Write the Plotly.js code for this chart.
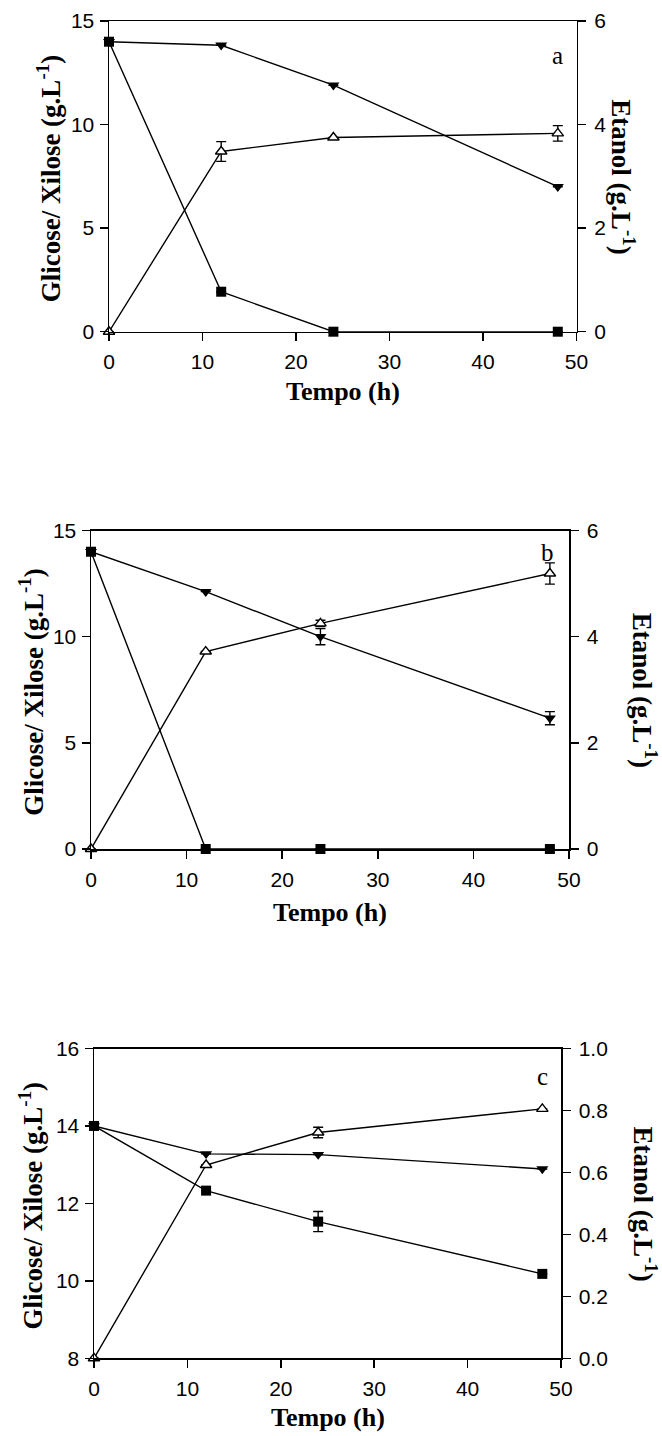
<!DOCTYPE html>
<html>
<head>
<meta charset="utf-8">
<script src="https://cdn.plot.ly/plotly-3.0.1.min.js"></script>
<style>
  html, body { margin: 0; padding: 0; background: #fff; }
  #chart { width: 662px; height: 1436px; }
</style>
</head>
<body>
<div id="chart"></div>
<script>
// Fermentation time course: glucose, xylose (left axis) and ethanol (right axis)
const tempo = [0, 12, 24, 48];

// Panel a
const glicoseA = [14, 1.93, 0, 0];
const xiloseA = [14, 13.83, 11.9, 7.0];
const etanolA = [0, 3.48, 3.75, 3.83];
const errGlicoseA = [0, 0, 0, 0];
const errXiloseA = [0, 0, 0, 0];
const errEtanolA = [0, 0.19, 0, 0.15];

// Panel b
const glicoseB = [14, 0, 0, 0];
const xiloseB = [14, 12.12, 10.0, 6.16];
const etanolB = [0, 3.72, 4.25, 5.19];
const errGlicoseB = [0, 0, 0, 0];
const errXiloseB = [0, 0, 0.38, 0.31];
const errEtanolB = [0, 0, 0.06, 0.2];

// Panel c
const glicoseC = [14, 12.33, 11.53, 10.18];
const xiloseC = [14, 13.28, 13.26, 12.89];
const etanolC = [0, 0.624, 0.729, 0.805];
const errGlicoseC = [0, 0, 0.26, 0];
const errXiloseC = [0, 0, 0, 0];
const errEtanolC = [0, 0, 0.017, 0];

// Axis ranges and tick steps
const leftRanges = [[0, 15], [0, 15], [8, 16]];
const leftSteps = [5, 5, 2];
const rightRanges = [[0, 6], [0, 6], [0, 1]];
const rightSteps = [2, 2, 0.2];
const panelLetters = ['a', 'b', 'c'];

const W = 662, H = 1436;
const fx = v => v / W;
const fy = v => 1 - v / H;

// Plot-area boxes in pixels: [left, right, top, bottom]
const boxes = [
  [109, 576.5, 21, 331.7],
  [91, 569, 530.5, 849],
  [94, 561, 1048.5, 1358.3]
];
// Text placement in pixels, per panel
const xTitleY = [391, 913, 1417];
const leftTitleX = [49, 31, 31];
const rightTitleX = [623, 645, 645];
const letterPos = [[557.5, 56], [547.5, 553], [542, 1076]];

const series = [
  [glicoseA, xiloseA, etanolA, errGlicoseA, errXiloseA, errEtanolA],
  [glicoseB, xiloseB, etanolB, errGlicoseB, errXiloseB, errEtanolB],
  [glicoseC, xiloseC, etanolC, errGlicoseC, errXiloseC, errEtanolC]
];

const lineStyle = { color: 'black', width: 1.4 };
const errStyle = arr => ({ type: 'data', array: arr, visible: true, color: 'black', thickness: 1.4, width: 5 });

const traces = [];
const layout = {
  width: W, height: H,
  margin: { l: 0, r: 0, t: 0, b: 0 },
  paper_bgcolor: 'white', plot_bgcolor: 'white',
  showlegend: false,
  annotations: []
};

const tickFont = { family: 'Liberation Sans, Arial, sans-serif', size: 21, color: 'black' };
const titleFont = { family: 'Liberation Serif, Times New Roman, serif', size: 26, color: 'black' };
const yTitleFont = { family: 'Liberation Serif, Times New Roman, serif', size: 27, color: 'black' };
const axisCommon = {
  showgrid: false, zeroline: false, showline: true, linecolor: 'black', linewidth: 1.5,
  ticks: 'outside', ticklen: 8, tickwidth: 1.5, tickcolor: 'black', tickfont: tickFont,
  fixedrange: true
};

boxes.forEach((b, i) => {
  const [l, r, t, btm] = b;
  const xn = i === 0 ? 'x' : 'x' + (i + 1);
  const yl = 'y' + (2 * i + 1 === 1 ? '' : 2 * i + 1);
  const yr = 'y' + (2 * i + 2);
  const xKey = i === 0 ? 'xaxis' : 'xaxis' + (i + 1);
  const ylKey = 2 * i + 1 === 1 ? 'yaxis' : 'yaxis' + (2 * i + 1);
  const yrKey = 'yaxis' + (2 * i + 2);

  layout[xKey] = Object.assign({}, axisCommon, {
    domain: [fx(l), fx(r)], range: [0, 50], dtick: 10, tick0: 0,
    anchor: yl, mirror: true, ticklabelstandoff: 3
  });
  layout[ylKey] = Object.assign({}, axisCommon, {
    domain: [fy(btm), fy(t)], range: leftRanges[i], dtick: leftSteps[i], tick0: leftRanges[i][0],
    anchor: xn, ticklabelstandoff: 1
  });
  const right = Object.assign({}, axisCommon, {
    range: rightRanges[i], dtick: rightSteps[i], tick0: 0,
    overlaying: yl, side: 'right', anchor: xn, ticklabelstandoff: 4
  });
  if (i === 2) right.tickformat = '.1f';
  layout[yrKey] = right;

  const [gl, xi, et, eg, ex, ee] = series[i];
  traces.push({
    x: tempo, y: et, xaxis: xn, yaxis: yr, mode: 'lines+markers', cliponaxis: false,
    line: lineStyle, error_y: errStyle(ee),
    marker: { symbol: 'triangle-up', size: 10, color: 'white', line: { color: 'black', width: 1.4 } }
  });
  traces.push({
    x: tempo, y: xi, xaxis: xn, yaxis: yl, mode: 'lines+markers', cliponaxis: false,
    line: lineStyle, error_y: errStyle(ex),
    marker: { symbol: 'triangle-down', size: 10.5, color: 'black' }
  });
  traces.push({
    x: tempo, y: gl, xaxis: xn, yaxis: yl, mode: 'lines+markers', cliponaxis: false,
    line: lineStyle, error_y: errStyle(eg),
    marker: { symbol: 'square', size: 10, color: 'black' }
  });

  const cx = (l + r) / 2, cy = (t + btm) / 2;
  layout.annotations.push({
    xref: 'paper', yref: 'paper', x: fx(cx), y: fy(xTitleY[i]), xanchor: 'center', yanchor: 'middle',
    text: '<b>Tempo (h)</b>', showarrow: false, font: titleFont
  });
  layout.annotations.push({
    xref: 'paper', yref: 'paper', x: fx(leftTitleX[i]), y: fy(cy + 3), xanchor: 'center', yanchor: 'middle',
    text: '<b>Glicose/ Xilose (g.L<sup>-1</sup>)</b>', textangle: -90, showarrow: false, font: yTitleFont
  });
  layout.annotations.push({
    xref: 'paper', yref: 'paper', x: fx(rightTitleX[i]), y: fy(cy), xanchor: 'center', yanchor: 'middle',
    text: '<b>Etanol (g.L<sup>-1</sup>)</b>', textangle: 90, showarrow: false, font: yTitleFont
  });
  layout.annotations.push({
    xref: 'paper', yref: 'paper', x: fx(letterPos[i][0]), y: fy(letterPos[i][1]), xanchor: 'center', yanchor: 'middle',
    text: panelLetters[i], showarrow: false,
    font: { family: 'Liberation Serif, Times New Roman, serif', size: 25, color: 'black' }
  });
});

Plotly.newPlot('chart', traces, layout, { displayModeBar: false, staticPlot: true });
</script>
</body>
</html>
